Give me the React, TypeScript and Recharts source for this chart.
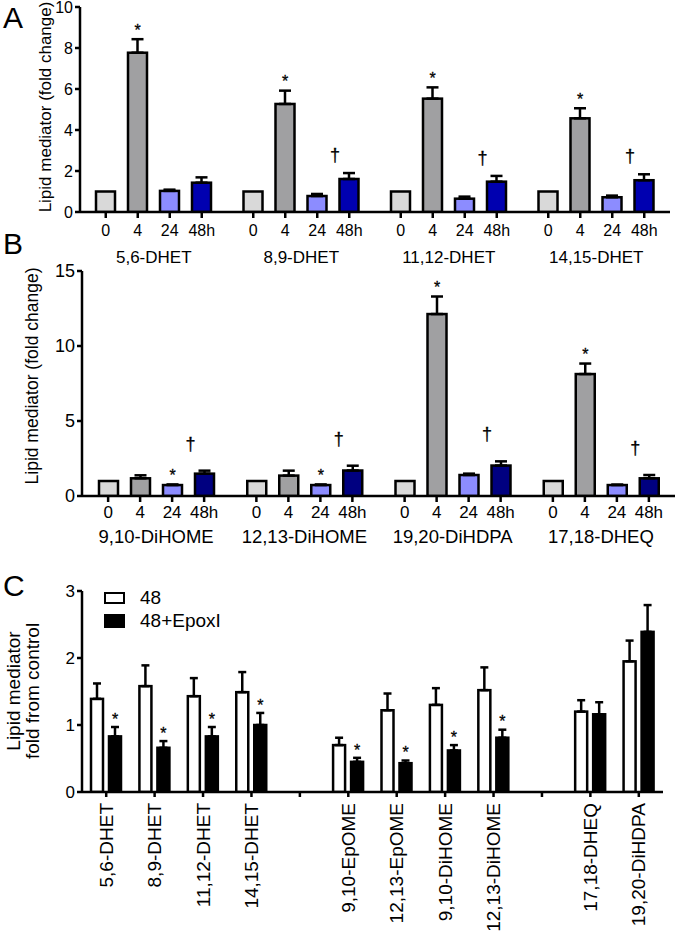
import React from "react";
import { BarChart, Bar, XAxis, YAxis, ErrorBar } from "recharts";

const FONT = '"Liberation Sans", Arial, Helvetica, sans-serif';

// ---- Panel A : DHETs over time ----
const groupsA = ["5,6-DHET", "8,9-DHET", "11,12-DHET", "14,15-DHET"];
const a0h = [1.0, 1.0, 1.0, 1.0];
const a4h = [7.77, 5.27, 5.53, 4.57];
const a4hErr = [0.66, 0.65, 0.55, 0.49];
const a24h = [1.03, 0.78, 0.65, 0.72];
const a24hErr = [0.06, 0.1, 0.1, 0.08];
const a48h = [1.43, 1.61, 1.48, 1.55];
const a48hErr = [0.26, 0.29, 0.28, 0.29];
const a4hSig = ["*", "*", "*", "*"];
const a48hSig = ["", "†", "†", "†"];

// ---- Panel B : other diols over time ----
const groupsB = ["9,10-DiHOME", "12,13-DiHOME", "19,20-DiHDPA", "17,18-DHEQ"];
const b0h = [1.0, 1.0, 1.0, 1.0];
const b4h = [1.18, 1.36, 12.13, 8.13];
const b4hErr = [0.2, 0.33, 1.17, 0.7];
const b24h = [0.73, 0.73, 1.4, 0.73];
const b24hErr = [0.04, 0.04, 0.09, 0.03];
const b48h = [1.49, 1.7, 2.03, 1.18];
const b48hErr = [0.2, 0.32, 0.28, 0.22];
const b4hSig = ["", "", "*", "*"];
const b24hSig = ["*", "*", "", ""];
const b48hSig = ["†", "†", "†", "†"];

const timeLabels = ["0", "4", "24", "48h"];

// ---- Panel C : 48h with / without epoxide inhibitor ----
// the two "" entries are the empty slots between the three families
const catsC = [
  "5,6-DHET", "8,9-DHET", "11,12-DHET", "14,15-DHET", "",
  "9,10-EpOME", "12,13-EpOME", "9,10-DiHOME", "12,13-DiHOME", "",
  "17,18-DHEQ", "19,20-DiHDPA",
];
const c48 = [1.39, 1.58, 1.43, 1.49, null, 0.7, 1.22, 1.3, 1.52, null, 1.2, 1.95];
const c48Err = [0.23, 0.31, 0.27, 0.3, 0, 0.11, 0.25, 0.25, 0.34, 0, 0.17, 0.31];
const cEpox = [0.83, 0.66, 0.83, 1.0, null, 0.45, 0.43, 0.62, 0.81, null, 1.16, 2.39];
const cEpoxErr = [0.14, 0.1, 0.14, 0.18, 0, 0.06, 0.04, 0.08, 0.12, 0, 0.18, 0.4];
const cSig = ["*", "*", "*", "*", "", "*", "*", "*", "*", "", "", ""];
const seriesC = ["48", "48+EpoxI"];

const COL_0 = "#d9d9d9";
const COL_4 = "#a0a0a2";
const COL_24 = "#8c8cff";
const COL_48A = "#0000b0";
const COL_48B = "#000080";

const rowsA = groupsA.map((name, i) => ({
  name,
  h0: a0h[i], h0e: [0, 0], s0: "",
  h4: a4h[i], h4e: [0, a4hErr[i]], s4: a4hSig[i],
  h24: a24h[i], h24e: [0, a24hErr[i]], s24: "",
  h48: a48h[i], h48e: [0, a48hErr[i]], s48: a48hSig[i],
}));

const rowsB = groupsB.map((name, i) => ({
  name,
  h0: b0h[i], h0e: [0, 0], s0: "",
  h4: b4h[i], h4e: [0, b4hErr[i]], s4: b4hSig[i],
  h24: b24h[i], h24e: [0, b24hErr[i]], s24: b24hSig[i],
  h48: b48h[i], h48e: [0, b48hErr[i]], s48: b48hSig[i],
}));

const rowsC = catsC.map((name, i) => ({
  name,
  w: c48[i], we: [0, c48Err[i]], ws: "",
  k: cEpox[i], ke: [0, cEpoxErr[i]], s: cSig[i],
}));

const axisStyle = { stroke: "#000", strokeWidth: 2.5 };

// bar shape that also puts the star / dagger above its error bar
const markedBar =
  (key: string, errKey: string, sigKey: string, gap: number, dx: number, size: number) =>
  (props: any) => {
    const { x, y, width, height, fill, payload } = props;
    if (!height || height <= 0) return <g />;
    const v = payload[key];
    const e = payload[errKey][1];
    const sig = payload[sigKey];
    let mark = null;
    if (sig && v) {
      const top = y - (e * height) / v;
      const cy = top - gap;
      const base = sig === "*" ? cy + 0.55 * size : cy + 0.28 * size;
      mark = (
        <text
          x={x + width / 2 + dx}
          y={base}
          textAnchor="middle"
          fontSize={size}
          fontFamily={FONT}
          fill="#000"
          stroke="#000"
          strokeWidth={0.3}
        >
          {sig}
        </text>
      );
    }
    return (
      <g>
        <rect x={x} y={y} width={width} height={height} fill={fill} stroke="#000" strokeWidth={2.5} />
        {mark}
      </g>
    );
  };

// group tick: a small tick under each bar, the time label, then the mediator name
const GroupTick = (props: any) => {
  const { x, y, payload, dy1, dy2, fs1, fs2 } = props;
  return (
    <g>
      {timeLabels.map((t, i) => {
        const bx = x + (i - 1.5) * 32;
        return (
          <g key={t}>
            <line x1={bx} x2={bx} y1={y} y2={y + 6} stroke="#000" strokeWidth={2.5} />
            <text x={bx} y={y + dy1} textAnchor="middle" fontSize={fs1} fontFamily={FONT} fill="#000">
              {t}
            </text>
          </g>
        );
      })}
      <text x={x} y={y + dy2} textAnchor="middle" fontSize={fs2} fontFamily={FONT} fill="#000">
        {payload.value}
      </text>
    </g>
  );
};

const RotTick = (props: any) => {
  const { x, y, payload } = props;
  if (!payload.value) return null;
  return (
    <text
      x={x}
      y={y}
      transform={`rotate(-90 ${x} ${y})`}
      textAnchor="end"
      dominantBaseline="central"
      fontSize={19}
      fontFamily={FONT}
      fill="#000"
    >
      {payload.value}
    </text>
  );
};

function TimeChart(p: any) {
  const { rows, domain, ticks, col48, margin, height, xHeight, dy1, dy2, fs1, fs2, yfs, daggerGap } = p;
  return (
    <BarChart width={677} height={height} data={rows} margin={margin} barSize={19} barGap={13}>
      <XAxis
        dataKey="name"
        interval={0}
        height={xHeight}
        tickLine={false}
        tickSize={0}
        tickMargin={0}
        axisLine={axisStyle}
        tick={(t: any) => <GroupTick {...t} dy1={dy1} dy2={dy2} fs1={fs1} fs2={fs2} />}
      />
      <YAxis
        domain={domain}
        ticks={ticks}
        interval={0}
        width={60}
        tickSize={5}
        tickMargin={2}
        tickLine={axisStyle}
        axisLine={axisStyle}
        tick={{ fill: "#000", fontSize: yfs, fontFamily: FONT }}
        allowDataOverflow
      />
      <Bar dataKey="h0" fill={COL_0} isAnimationActive={false} shape={markedBar("h0", "h0e", "s0", 12, 0, 16)} />
      <Bar dataKey="h4" fill={COL_4} isAnimationActive={false} shape={markedBar("h4", "h4e", "s4", 12, 0, 16)}>
        <ErrorBar dataKey="h4e" width={6} stroke="#000" strokeWidth={2.5} direction="y" />
      </Bar>
      <Bar dataKey="h24" fill={COL_24} isAnimationActive={false} shape={markedBar("h24", "h24e", "s24", 12, 0, 16)}>
        <ErrorBar dataKey="h24e" width={6} stroke="#000" strokeWidth={2.5} direction="y" />
      </Bar>
      <Bar
        dataKey="h48"
        fill={col48}
        isAnimationActive={false}
        shape={markedBar("h48", "h48e", "s48", daggerGap, -14, 18)}
      >
        <ErrorBar dataKey="h48e" width={6} stroke="#000" strokeWidth={2.5} direction="y" />
      </Bar>
    </BarChart>
  );
}

const abs = (left: number, top: number, extra: any = {}) => ({
  position: "absolute" as const,
  left,
  top,
  fontFamily: FONT,
  color: "#000",
  ...extra,
});

const yLabel = (text: string, cx: number, cy: number, size: number) => (
  <div
    style={abs(cx, cy, {
      fontSize: size,
      lineHeight: `${size + 1}px`,
      whiteSpace: "nowrap",
      textAlign: "center",
      transform: "translate(-50%, -50%) rotate(-90deg)",
    })}
  >
    {text}
  </div>
);

export default function App() {
  return (
    <div style={{ position: "absolute", left: 0, top: 0, width: 677, height: 934, background: "#fff", overflow: "hidden" }}>
      <div style={abs(0, 0)}>
        <TimeChart
          rows={rowsA}
          domain={[0, 10]}
          ticks={[0, 2, 4, 6, 8, 10]}
          col48={COL_48A}
          height={275}
          xHeight={63}
          margin={{ top: 7, right: 7, bottom: 0, left: 20 }}
          dy1={24}
          dy2={51}
          fs1={16}
          fs2={17}
          yfs={16}
          daggerGap={17}
        />
      </div>
      <div style={abs(0, 262)}>
        <TimeChart
          rows={rowsB}
          domain={[0, 15]}
          ticks={[0, 5, 10, 15]}
          col48={COL_48B}
          height={300}
          xHeight={66}
          margin={{ top: 9, right: 2, bottom: 0, left: 22 }}
          dy1={21.5}
          dy2={47}
          fs1={17}
          fs2={18.5}
          yfs={18}
          daggerGap={26}
        />
      </div>
      <div style={abs(0, 580)}>
        <BarChart width={677} height={354} data={rowsC} margin={{ top: 11, right: 14, bottom: 0, left: 22 }} barSize={12} barGap={6}>
          <XAxis
            dataKey="name"
            interval={0}
            height={142}
            tickSize={5}
            tickMargin={6}
            tickLine={axisStyle}
            axisLine={axisStyle}
            tick={(t: any) => <RotTick {...t} />}
          />
          <YAxis
            domain={[0, 3]}
            ticks={[0, 1, 2, 3]}
            interval={0}
            width={60}
            tickSize={5}
            tickMargin={2}
            tickLine={axisStyle}
            axisLine={axisStyle}
            tick={{ fill: "#000", fontSize: 17, fontFamily: FONT }}
            allowDataOverflow
          />
          <Bar dataKey="w" name={seriesC[0]} fill="#fff" isAnimationActive={false} shape={markedBar("w", "we", "ws", 11, 0, 16)}>
            <ErrorBar dataKey="we" width={4} stroke="#000" strokeWidth={2.5} direction="y" />
          </Bar>
          <Bar dataKey="k" name={seriesC[1]} fill="#000" isAnimationActive={false} shape={markedBar("k", "ke", "s", 11, 0, 16)}>
            <ErrorBar dataKey="ke" width={4} stroke="#000" strokeWidth={2.5} direction="y" />
          </Bar>
        </BarChart>
      </div>

      {/* legend for C */}
      <div style={abs(104, 592, { width: 21, height: 12, border: "2px solid #000", boxSizing: "border-box", background: "#fff" })} />
      <div style={abs(140, 588, { fontSize: 19, lineHeight: "20px" })}>{seriesC[0]}</div>
      <div style={abs(104, 614, { width: 21, height: 14, background: "#000" })} />
      <div style={abs(140, 611, { fontSize: 19, lineHeight: "20px" })}>{seriesC[1]}</div>

      {/* axis titles */}
      {yLabel("Lipid mediator (fold change)", 46, 107, 17)}
      {yLabel("Lipid mediator (fold change)", 32, 376, 17.5)}
      <div
        style={abs(23, 691, {
          fontSize: 19,
          lineHeight: "19px",
          whiteSpace: "nowrap",
          textAlign: "center",
          transform: "translate(-50%, -50%) rotate(-90deg)",
        })}
      >
        Lipid mediator
        <br />
        fold from control
      </div>

      {/* panel letters */}
      <div style={abs(3, 3, { fontSize: 30, lineHeight: "30px" })}>A</div>
      <div style={abs(3, 229, { fontSize: 30, lineHeight: "30px" })}>B</div>
      <div style={abs(3, 571, { fontSize: 30, lineHeight: "30px" })}>C</div>
    </div>
  );
}
